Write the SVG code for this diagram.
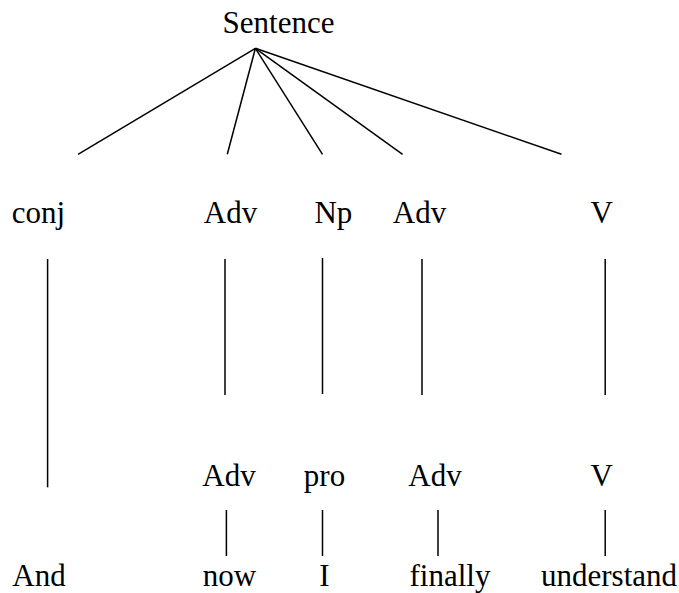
<svg xmlns="http://www.w3.org/2000/svg" width="679" height="593" viewBox="0 0 679 593">
<style>
text{font-family:"Liberation Serif","Times New Roman",serif;font-size:31px;fill:#000;text-anchor:middle}
.c line{stroke:#000;stroke-width:1.5;fill:none}
</style>
<rect width="679" height="593" fill="#fff"/>
<g class="c" id="connectors">
<line x1="255.4" y1="48.3" x2="78" y2="154.3"/>
<line x1="255.4" y1="48.3" x2="227.3" y2="154.3"/>
<line x1="255.4" y1="48.3" x2="322.5" y2="154.3"/>
<line x1="255.4" y1="48.3" x2="402.6" y2="154.3"/>
<line x1="255.4" y1="48.3" x2="561.5" y2="154.3"/>
<line x1="47.6" y1="259" x2="47.6" y2="487.3"/>
<line x1="225" y1="259" x2="225" y2="395"/>
<line x1="322.5" y1="258" x2="322.5" y2="394"/>
<line x1="422" y1="259" x2="422" y2="395"/>
<line x1="605.2" y1="259" x2="605.2" y2="395"/>
<line x1="226.4" y1="510" x2="226.4" y2="556"/>
<line x1="322.5" y1="510" x2="322.5" y2="556"/>
<line x1="438" y1="510" x2="438" y2="556"/>
<line x1="605.2" y1="510" x2="605.2" y2="556"/>
</g>
<g id="n-sentence"><text x="278.5" y="33.3">Sentence</text></g>
<g id="n-conj"><text x="38.5" y="223.3">conj</text></g>
<g id="n-adv1"><text x="230.5" y="223.3">Adv</text></g>
<g id="n-np"><text x="333.4" y="223.3">Np</text></g>
<g id="n-adv2"><text x="419.5" y="223.3">Adv</text></g>
<g id="n-v1"><text x="601.8" y="223.3">V</text></g>
<g id="n-adv3"><text x="229" y="486">Adv</text></g>
<g id="n-pro"><text x="324.5" y="486">pro</text></g>
<g id="n-adv4"><text x="435" y="486">Adv</text></g>
<g id="n-v2"><text x="601.8" y="486">V</text></g>
<g id="n-and"><text x="39" y="586">And</text></g>
<g id="n-now"><text x="229.5" y="586">now</text></g>
<g id="n-i"><text x="324.5" y="586">I</text></g>
<g id="n-finally"><text x="450" y="586">finally</text></g>
<g id="n-understand"><text x="609" y="586">understand</text></g>
</svg>
